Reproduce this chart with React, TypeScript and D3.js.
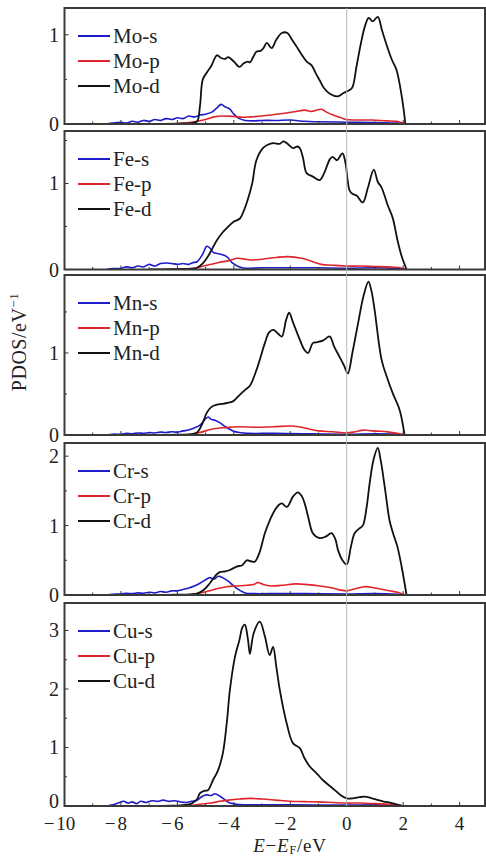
import React from "react";
import * as d3 from "d3";

type Pt = [number, number];

// energy (eV) vs PDOS
const moS: Pt[] = [[-8.5,0],[-8.3,0.01],[-8.0,0.02],[-7.8,0.01],[-7.6,0.03],[-7.4,0.02],[-7.2,0.04],[-7.0,0.03],[-6.8,0.05],[-6.6,0.04],[-6.4,0.06],[-6.2,0.05],[-6.0,0.07],[-5.8,0.06],[-5.6,0.09],[-5.4,0.08],[-5.2,0.1],[-5.0,0.11],[-4.8,0.13],[-4.6,0.18],[-4.45,0.22],[-4.3,0.19],[-4.15,0.17],[-4.0,0.11],[-3.8,0.06],[-3.6,0.04],[-3.3,0.035],[-3.0,0.04],[-2.5,0.04],[-2.0,0.045],[-1.5,0.03],[-1,0.025],[0,0.02],[1,0.015],[1.8,0.01],[2.1,0]];
const moP: Pt[] = [[-6.5,0],[-6,0.005],[-5.5,0.02],[-5,0.05],[-4.7,0.08],[-4.4,0.09],[-4,0.085],[-3.7,0.075],[-3.43,0.08],[-3.0,0.09],[-2.7,0.1],[-2.2,0.12],[-1.8,0.14],[-1.5,0.155],[-1.25,0.14],[-0.9,0.165],[-0.7,0.13],[-0.48,0.1],[-0.2,0.07],[0,0.05],[0.5,0.045],[0.9,0.045],[1.4,0.035],[1.75,0.03],[2.1,0]];
const moD: Pt[] = [[-7,0],[-6,0.005],[-5.5,0.01],[-5.3,0.03],[-5.2,0.2],[-5.1,0.5],[-4.95,0.58],[-4.8,0.65],[-4.6,0.77],[-4.45,0.74],[-4.3,0.73],[-4.2,0.75],[-4.0,0.7],[-3.8,0.64],[-3.65,0.68],[-3.5,0.7],[-3.43,0.69],[-3.3,0.76],[-3.2,0.81],[-3.05,0.82],[-2.95,0.85],[-2.83,0.91],[-2.66,0.85],[-2.5,0.94],[-2.3,1.02],[-2.1,1.02],[-1.95,0.95],[-1.78,0.87],[-1.6,0.78],[-1.42,0.7],[-1.25,0.66],[-1.1,0.57],[-0.96,0.49],[-0.8,0.4],[-0.6,0.34],[-0.31,0.31],[-0.1,0.35],[0.1,0.38],[0.2,0.41],[0.35,0.65],[0.5,0.9],[0.65,1.1],[0.78,1.19],[0.92,1.15],[1.1,1.2],[1.25,1.05],[1.4,0.9],[1.6,0.72],[1.76,0.61],[1.95,0.31],[2.08,0]];

const feS: Pt[] = [[-8.5,0],[-8.3,0.01],[-8.0,0.015],[-7.8,0.03],[-7.6,0.02],[-7.4,0.04],[-7.2,0.03],[-7.0,0.06],[-6.8,0.04],[-6.6,0.07],[-6.4,0.075],[-6.2,0.07],[-6.0,0.06],[-5.8,0.07],[-5.6,0.06],[-5.45,0.08],[-5.3,0.09],[-5.1,0.18],[-4.96,0.27],[-4.85,0.25],[-4.73,0.2],[-4.5,0.18],[-4.25,0.15],[-4.03,0.07],[-3.8,0.03],[-3.6,0.015],[-3,0.02],[-2,0.02],[-1,0.02],[0,0.015],[1,0.02],[1.8,0.01],[2.1,0]];
const feP: Pt[] = [[-6.5,0],[-6,0.005],[-5.5,0.01],[-5.2,0.03],[-4.8,0.06],[-4.5,0.085],[-4.2,0.1],[-3.9,0.13],[-3.6,0.12],[-3.43,0.11],[-3,0.12],[-2.5,0.14],[-2.1,0.15],[-1.6,0.13],[-1.2,0.09],[-0.9,0.06],[-0.5,0.05],[0,0.04],[0.5,0.04],[1,0.035],[1.5,0.03],[1.9,0.02],[2.1,0]];
const feD: Pt[] = [[-7,0],[-6,0.005],[-5.5,0.01],[-5.3,0.02],[-5.1,0.07],[-4.96,0.13],[-4.8,0.22],[-4.6,0.34],[-4.4,0.43],[-4.25,0.48],[-4.03,0.55],[-3.79,0.59],[-3.65,0.68],[-3.5,0.82],[-3.35,1.0],[-3.2,1.27],[-2.97,1.41],[-2.8,1.45],[-2.6,1.47],[-2.37,1.46],[-2.25,1.49],[-2.13,1.47],[-1.9,1.41],[-1.75,1.43],[-1.66,1.41],[-1.55,1.3],[-1.42,1.12],[-1.2,1.08],[-0.96,1.04],[-0.8,1.12],[-0.6,1.28],[-0.5,1.31],[-0.35,1.27],[-0.15,1.35],[-0.05,1.25],[0.1,0.92],[0.2,0.88],[0.35,0.86],[0.57,0.78],[0.75,0.95],[0.96,1.16],[1.1,1.02],[1.24,0.95],[1.45,0.75],[1.63,0.6],[1.8,0.34],[1.95,0.15],[2.12,0]];

const mnS: Pt[] = [[-8.5,0],[-8.3,0.01],[-8,0.01],[-7.8,0.02],[-7.6,0.015],[-7.4,0.025],[-7.2,0.02],[-7.0,0.03],[-6.8,0.025],[-6.6,0.035],[-6.4,0.03],[-6.2,0.04],[-6.0,0.035],[-5.8,0.05],[-5.6,0.06],[-5.45,0.08],[-5.2,0.12],[-5.0,0.2],[-4.9,0.22],[-4.8,0.19],[-4.67,0.18],[-4.5,0.15],[-4.3,0.1],[-4.03,0.05],[-3.8,0.03],[-3.5,0.02],[-2.5,0.02],[-1.5,0.015],[0,0.01],[1,0.015],[1.8,0.01],[2.1,0]];
const mnP: Pt[] = [[-6,0],[-5.5,0.01],[-5.2,0.03],[-4.8,0.07],[-4.3,0.09],[-3.8,0.1],[-3.2,0.095],[-2.6,0.1],[-2.0,0.11],[-1.7,0.1],[-1.3,0.07],[-1.0,0.05],[-0.5,0.04],[0,0.025],[0.3,0.04],[0.6,0.06],[0.9,0.05],[1.2,0.045],[1.5,0.035],[1.8,0.02],[2.05,0]];
const mnD: Pt[] = [[-7,0],[-6,0.005],[-5.5,0.01],[-5.3,0.03],[-5.1,0.15],[-4.96,0.27],[-4.8,0.34],[-4.6,0.37],[-4.4,0.38],[-4.25,0.39],[-4.03,0.41],[-3.79,0.49],[-3.6,0.55],[-3.43,0.6],[-3.2,0.79],[-2.9,1.12],[-2.75,1.25],[-2.6,1.28],[-2.45,1.24],[-2.3,1.2],[-2.15,1.4],[-2.04,1.49],[-1.9,1.37],[-1.66,1.16],[-1.5,1.04],[-1.37,1.0],[-1.2,1.12],[-1.07,1.13],[-0.85,1.15],[-0.6,1.2],[-0.45,1.08],[-0.25,0.95],[-0.1,0.85],[0.04,0.75],[0.2,1.0],[0.39,1.34],[0.6,1.7],[0.77,1.87],[0.88,1.75],[0.99,1.52],[1.24,0.91],[1.45,0.68],[1.63,0.51],[1.88,0.3],[2.05,0]];

const crS: Pt[] = [[-8.5,0],[-8.3,0.01],[-8,0.015],[-7.8,0.025],[-7.6,0.02],[-7.4,0.03],[-7.2,0.025],[-7,0.04],[-6.8,0.03],[-6.6,0.05],[-6.4,0.04],[-6.2,0.06],[-6,0.06],[-5.8,0.08],[-5.6,0.1],[-5.4,0.13],[-5.2,0.17],[-5.0,0.22],[-4.85,0.25],[-4.7,0.23],[-4.55,0.27],[-4.4,0.25],[-4.2,0.2],[-4.0,0.13],[-3.8,0.07],[-3.6,0.03],[-3.3,0.02],[-2.5,0.02],[-1.5,0.02],[0,0.015],[1,0.02],[1.8,0.01],[2.1,0]];
const crP: Pt[] = [[-6,0],[-5.5,0.01],[-5.2,0.03],[-4.96,0.05],[-4.6,0.09],[-4.25,0.12],[-3.9,0.13],[-3.54,0.14],[-3.3,0.15],[-3.15,0.18],[-2.95,0.15],[-2.7,0.13],[-2.3,0.14],[-1.8,0.16],[-1.4,0.15],[-0.96,0.13],[-0.5,0.1],[-0.2,0.07],[0,0.06],[0.3,0.09],[0.67,0.12],[1.0,0.1],[1.5,0.06],[1.8,0.04],[2.05,0]];
const crD: Pt[] = [[-7,0],[-6,0.005],[-5.5,0.01],[-5.3,0.02],[-5.05,0.08],[-4.85,0.17],[-4.65,0.28],[-4.5,0.33],[-4.3,0.34],[-4.14,0.36],[-3.9,0.41],[-3.7,0.43],[-3.54,0.5],[-3.43,0.49],[-3.26,0.48],[-3.1,0.6],[-2.9,0.89],[-2.7,1.1],[-2.55,1.22],[-2.4,1.3],[-2.3,1.32],[-2.12,1.27],[-1.9,1.42],[-1.73,1.48],[-1.6,1.43],[-1.49,1.32],[-1.35,1.1],[-1.2,0.89],[-0.96,0.82],[-0.75,0.84],[-0.54,0.89],[-0.4,0.8],[-0.31,0.65],[-0.15,0.5],[0,0.44],[0.15,0.7],[0.28,0.89],[0.45,0.96],[0.57,1.0],[0.7,1.25],[0.81,1.6],[0.95,1.95],[1.1,2.12],[1.2,1.95],[1.28,1.75],[1.4,1.4],[1.52,1.07],[1.65,0.88],[1.8,0.69],[1.95,0.4],[2.12,0]];

const cuS: Pt[] = [[-8.5,0],[-8.3,0.02],[-8.1,0.05],[-7.9,0.08],[-7.75,0.05],[-7.6,0.07],[-7.45,0.04],[-7.3,0.08],[-7.1,0.06],[-6.9,0.09],[-6.7,0.08],[-6.5,0.1],[-6.3,0.08],[-6.1,0.09],[-5.9,0.07],[-5.67,0.06],[-5.5,0.08],[-5.3,0.1],[-5.1,0.17],[-4.96,0.19],[-4.8,0.18],[-4.67,0.21],[-4.5,0.17],[-4.3,0.1],[-4.14,0.05],[-3.9,0.03],[-3.5,0.02],[-2,0.02],[0,0.015],[1,0.02],[1.8,0.01],[2,0]];
const cuP: Pt[] = [[-6,0],[-5.5,0.01],[-5.2,0.03],[-4.8,0.05],[-4.5,0.08],[-4.2,0.1],[-3.8,0.12],[-3.43,0.13],[-3,0.12],[-2.5,0.1],[-2,0.08],[-1.5,0.075],[-1,0.07],[-0.5,0.06],[0,0.05],[0.5,0.05],[1,0.04],[1.5,0.03],[1.8,0.02],[2,0]];
const cuD: Pt[] = [[-7,0],[-6.2,0.005],[-5.9,0.01],[-5.5,0.04],[-5.3,0.12],[-5.2,0.22],[-5.05,0.26],[-4.92,0.27],[-4.74,0.44],[-4.56,0.61],[-4.39,0.9],[-4.25,1.42],[-4.14,1.98],[-3.96,2.55],[-3.8,2.84],[-3.7,3.05],[-3.61,3.1],[-3.5,2.85],[-3.43,2.6],[-3.3,2.95],[-3.08,3.15],[-2.9,2.9],[-2.73,2.58],[-2.61,2.72],[-2.5,2.4],[-2.37,1.98],[-2.13,1.42],[-1.9,1.07],[-1.66,0.99],[-1.5,0.82],[-1.3,0.67],[-1.05,0.55],[-0.84,0.44],[-0.49,0.3],[-0.2,0.18],[0,0.13],[0.22,0.13],[0.45,0.15],[0.64,0.16],[0.9,0.13],[1.28,0.08],[1.6,0.05],[1.99,0]];

const elements = ["Mo", "Fe", "Mn", "Cr", "Cu"];
const orbitals = ["s", "p", "d"];
const colors = ["#1c1cc8", "#e0242c", "#111111"];
const series: Pt[][][] = [
  [moS, moP, moD],
  [feS, feP, feD],
  [mnS, mnP, mnD],
  [crS, crP, crD],
  [cuS, cuP, cuD],
];
const yMax = [1.3, 1.61, 1.95, 2.19, 3.47];
const yTicks = [[0, 1], [0, 1], [0, 1], [0, 1, 2], [0, 1, 2, 3]];
const xTicks = [-10, -8, -6, -4, -2, 0, 2, 4];

// panel pixel boxes
const panels = [
  { top: 8, bottom: 124 },
  { top: 131, bottom: 269.5 },
  { top: 275, bottom: 435 },
  { top: 443, bottom: 595 },
  { top: 603, bottom: 806 },
];

const W = 486, H = 857;
const left = 64.5, right = 485;
const font = "'Liberation Serif', 'Times New Roman', serif";

export default function App() {
  const x = d3.scaleLinear().domain([-10, 4.9]).range([left, right]);
  const minorX = d3.range(-9, 5, 1).filter((v) => v % 2 !== 0);

  return (
    <div style={{ position: "absolute", left: 0, top: 0 }}>
      <svg width={W} height={H} style={{ display: "block", background: "#fff" }} fontFamily={font}>
        {panels.map((p, i) => {
          const y = d3.scaleLinear().domain([0, yMax[i]]).range([p.bottom, p.top]);
          const line = d3.line<Pt>().x((d) => x(d[0])).y((d) => y(d[1])).curve(d3.curveCatmullRom.alpha(0.5));
          const minorY = d3.range(0.5, yMax[i], 1);
          return (
            <g key={i}>
              <defs>
                <clipPath id={`clip${i}`}>
                  <rect x={left} y={p.top} width={right - left} height={p.bottom - p.top} />
                </clipPath>
              </defs>
              <g clipPath={`url(#clip${i})`}>
                {series[i].map((s, k) => (
                  <path key={k} d={line(s) || ""} fill="none" stroke={colors[k]} strokeWidth={k === 2 ? 1.8 : 1.6} strokeLinejoin="round" />
                ))}
              </g>
              {/* x ticks, inward */}
              {xTicks.map((v) => (
                <line key={`xt${v}`} x1={x(v)} x2={x(v)} y1={p.bottom} y2={p.bottom - 4} stroke="#333" strokeWidth={1} />
              ))}
              {minorX.map((v) => (
                <line key={`xm${v}`} x1={x(v)} x2={x(v)} y1={p.bottom} y2={p.bottom - 2.5} stroke="#333" strokeWidth={1} />
              ))}
              {/* y ticks */}
              {yTicks[i].map((v) => (
                <g key={`yt${v}`}>
                  <line x1={left} x2={left + 4} y1={y(v)} y2={y(v)} stroke="#333" strokeWidth={1} />
                  <text x={59} y={y(v)} dy={i === 4 && v === 0 ? "0.12em" : "0.35em"} textAnchor="end" fontSize={20} fill="#222">{v}</text>
                </g>
              ))}
              {minorY.map((v) => (
                <line key={`ym${v}`} x1={left} x2={left + 2.5} y1={y(v)} y2={y(v)} stroke="#333" strokeWidth={1} />
              ))}
              {/* legend */}
              {orbitals.map((o, k) => {
                const ly = p.top + 28 + k * 25;
                return (
                  <g key={o}>
                    <line x1={78} x2={110} y1={ly} y2={ly} stroke={colors[k]} strokeWidth={2} />
                    <text x={113} y={ly} dy="0.33em" fontSize={21} fill="#222">{`${elements[i]}-${o}`}</text>
                  </g>
                );
              })}
              <rect x={left} y={p.top} width={right - left} height={p.bottom - p.top} fill="none" stroke="#3a3a3a" strokeWidth={2} />
            </g>
          );
        })}
        {/* Fermi level */}
        <line x1={x(0)} x2={x(0)} y1={panels[0].top} y2={panels[4].bottom} stroke="#b8b8b8" strokeWidth={1} />
        {/* x tick labels */}
        {xTicks.map((v) => (
          <text key={v} x={x(v) - (v < 0 ? 5 : 0)} y={830} textAnchor="middle" fontSize={19} fill="#222">
            {v < 0 ? (
              <>
                <tspan>{"\u2212"}</tspan>
                <tspan dx={2}>{-v}</tspan>
              </>
            ) : (
              `${v}`
            )}
          </text>
        ))}
        <text x={290} y={852} textAnchor="middle" fontSize={19} fill="#222" letterSpacing={0.8}>
          <tspan fontStyle="italic">E</tspan>
          <tspan>{"\u2212"}</tspan>
          <tspan fontStyle="italic">E</tspan>
          <tspan fontSize={12} dy={2}>F</tspan>
          <tspan dy={-2}>/eV</tspan>
        </text>
        <text transform="translate(26,342) rotate(-90)" textAnchor="middle" fontSize={20} fill="#222" letterSpacing={0.5}>
          <tspan>PDOS/eV</tspan>
          <tspan fontSize={13} dy={-8}>{"\u22121"}</tspan>
        </text>
      </svg>
    </div>
  );
}
